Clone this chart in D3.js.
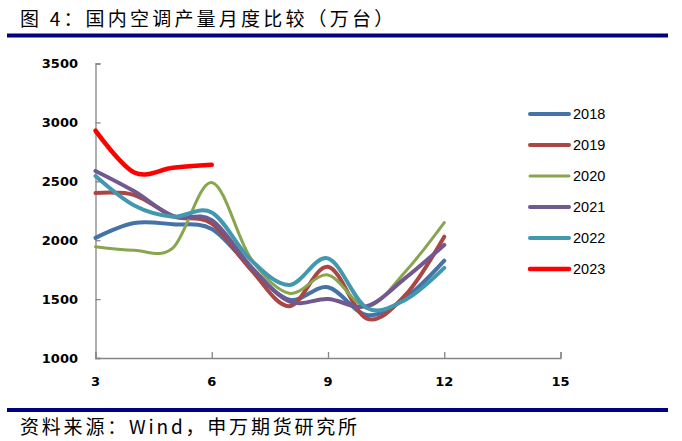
<!DOCTYPE html>
<html>
<head>
<meta charset="utf-8">
<script src="https://cdn.jsdelivr.net/npm/d3@7"></script>
<style>
html,body{margin:0;padding:0;background:#fff;}
svg{display:block;}
</style>
</head>
<body>
<svg id="chart" width="682" height="441"></svg>
<script>
const months = [3,4,5,6,7,8,9,10,11,12];
const s2018 = [2020, 2146, 2135, 2095, 1770, 1495, 1600, 1365, 1510, 1826];
const s2019 = [2400, 2384, 2205, 2140, 1755, 1440, 1775, 1335, 1535, 2030];
const s2020 = [1945, 1915, 1935, 2490, 1850, 1550, 1705, 1435, 1735, 2150];
const s2021 = [2588, 2415, 2205, 2170, 1780, 1480, 1500, 1440, 1680, 1960];
const s2022 = [2545, 2295, 2200, 2235, 1835, 1620, 1846, 1425, 1495, 1765];
const s2023 = [2930, 2575, 2615, 2640];
const seriesNames = ["2018","2019","2020","2021","2022","2023"];
const seriesValues = [s2018, s2019, s2020, s2021, s2022, s2023];
const colors = ["#4572A7","#AA4643","#89A54E","#71588F","#4198AF","#FF0000"];
const widths = [4, 4, 3, 4, 4, 4.5];
const xTicks = [3,6,9,12,15];
const yTicks = [1000,1500,2000,2500,3000,3500];
const title = "图 4：国内空调产量月度比较（万台）";
const source = "资料来源：Wind，申万期货研究所";

const svg = d3.select("#chart");
const x = d3.scaleLinear().domain([3,15]).range([95.5, 560.5]);
const y = d3.scaleLinear().domain([1000,3500]).range([358, 63.5]);

// title
svg.append("text").attr("x", 20).attr("y", 26)
  .attr("font-family", "'Noto Sans CJK SC'").attr("font-size", 19)
  .attr("letter-spacing", 3.2).attr("fill", "#000").text(title);
svg.append("rect").attr("x", 7).attr("y", 33.5).attr("width", 661).attr("height", 4).attr("fill", "#000080");
// source
svg.append("rect").attr("x", 7).attr("y", 408).attr("width", 661).attr("height", 4).attr("fill", "#000080");
svg.append("text").attr("x", 20).attr("y", 434)
  .attr("font-family", "'Noto Sans CJK SC'").attr("font-size", 19)
  .attr("letter-spacing", 2.8).attr("fill", "#000").text(source);

// axes
const gx = svg.append("g").attr("transform", "translate(0,358)")
  .call(d3.axisTop(x).tickValues(xTicks).tickSize(6).tickFormat(""));
const gy = svg.append("g").attr("transform", "translate(95.5,0)")
  .call(d3.axisRight(y).tickValues(yTicks).tickSize(5).tickFormat(""));
[gx, gy].forEach(g => {
  g.selectAll("path.domain").attr("stroke", "#868686").attr("stroke-width", 1.3);
  g.selectAll(".tick line").attr("stroke", "#868686").attr("stroke-width", 1.3);
});

svg.append("g").selectAll("text").data(yTicks).join("text")
  .attr("x", 78).attr("y", d => y(d)).attr("dy", "0.36em")
  .attr("text-anchor", "end").attr("font-family", "'DejaVu Sans'")
  .attr("font-weight", "bold").attr("font-size", 13).attr("fill", "#000")
  .text(d => d);
svg.append("g").selectAll("text").data(xTicks).join("text")
  .attr("x", d => x(d)).attr("y", 381).attr("dy", "0.36em")
  .attr("text-anchor", "middle").attr("font-family", "'DejaVu Sans'")
  .attr("font-weight", "bold").attr("font-size", 13).attr("fill", "#000")
  .text(d => d);

// lines
const line = d3.line().x(d => x(d[0])).y(d => y(d[1])).curve(d3.curveCardinal.tension(0));
seriesValues.forEach((vals, i) => {
  svg.append("path")
    .datum(vals.map((v, j) => [months[j], v]))
    .attr("d", line).attr("fill", "none")
    .attr("stroke", colors[i]).attr("stroke-width", widths[i])
    .attr("stroke-linecap", "round").attr("stroke-linejoin", "round");
});

// legend
const legendY = [114, 145, 176, 207, 238, 269];
const lg = svg.append("g");
seriesNames.forEach((name, i) => {
  lg.append("line").attr("x1", 530).attr("x2", 569).attr("y1", legendY[i]).attr("y2", legendY[i])
    .attr("stroke", colors[i]).attr("stroke-width", widths[i]).attr("stroke-linecap", "round");
  lg.append("text").attr("x", 573).attr("y", legendY[i]).attr("dy", "0.36em")
    .attr("font-family", "'Liberation Sans'").attr("font-size", 14.5).attr("fill", "#000")
    .text(name);
});
</script>
</body>
</html>
